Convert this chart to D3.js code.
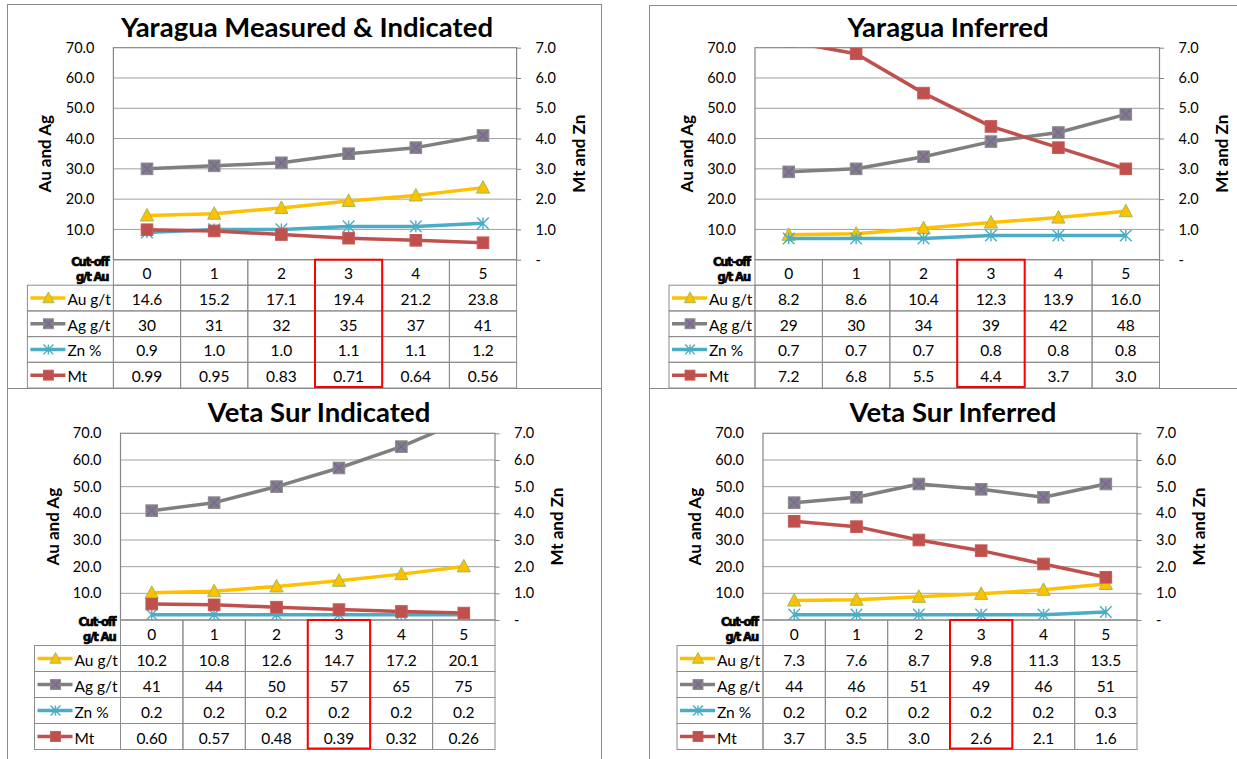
<!DOCTYPE html>
<html>
<head>
<meta charset="utf-8">
<script src="https://cdn.jsdelivr.net/npm/d3@7"></script>
<style>
  body { margin: 0; background: #fff; }
  svg { display: block; font-family: Lato, "Open Sans", sans-serif; }
</style>
</head>
<body>
<svg width="1237" height="759"></svg>
<script>
var cutoffs = [0, 1, 2, 3, 4, 5];
var titles = ["Yaragua Measured & Indicated", "Yaragua Inferred", "Veta Sur Indicated", "Veta Sur Inferred"];
var auGrade = [
  [14.6, 15.2, 17.1, 19.4, 21.2, 23.8],
  [8.2, 8.6, 10.4, 12.3, 13.9, 16.0],
  [10.2, 10.8, 12.6, 14.7, 17.2, 20.1],
  [7.3, 7.6, 8.7, 9.8, 11.3, 13.5]
];
var agGrade = [
  [30, 31, 32, 35, 37, 41],
  [29, 30, 34, 39, 42, 48],
  [41, 44, 50, 57, 65, 75],
  [44, 46, 51, 49, 46, 51]
];
var znPct = [
  [0.9, 1.0, 1.0, 1.1, 1.1, 1.2],
  [0.7, 0.7, 0.7, 0.8, 0.8, 0.8],
  [0.2, 0.2, 0.2, 0.2, 0.2, 0.2],
  [0.2, 0.2, 0.2, 0.2, 0.2, 0.3]
];
var mtTonnes = [
  [0.99, 0.95, 0.83, 0.71, 0.64, 0.56],
  [7.2, 6.8, 5.5, 4.4, 3.7, 3.0],
  [0.60, 0.57, 0.48, 0.39, 0.32, 0.26],
  [3.7, 3.5, 3.0, 2.6, 2.1, 1.6]
];
var mtDecimals = [2, 1, 2, 1];
var seriesNames = ["Au g/t", "Ag g/t", "Zn %", "Mt"];
var leftTicks = [10, 20, 30, 40, 50, 60, 70];
var rightTicks = [0, 1, 2, 3, 4, 5, 6, 7];
var highlightCutoff = 3;

// panel geometry
var layout = [
  {fx: 7, fy: 4, fw: 594, fh: 384, pl: 113.4, pr: 516.6, pt: 47.7, pb: 259.7, rowH: 25.7, titleX: 307, titleY: 37},
  {fx: 649, fy: 5, fw: 600, fh: 383, pl: 755, pr: 1159.5, pt: 47.7, pb: 259.7, rowH: 25.7, titleX: 948, titleY: 37},
  {fx: 7, fy: 388, fw: 594, fh: 380, pl: 120.5, pr: 495, pt: 433.3, pb: 620, rowH: 26, titleX: 319, titleY: 422},
  {fx: 649, fy: 388, fw: 600, fh: 380, pl: 763, pr: 1137, pt: 433.3, pb: 620, rowH: 26, titleX: 953, titleY: 422}
];
var headerH = 25.5;

var colors = {au: "#FFC000", ag: "#7F7F7F", zn: "#4BACC6", mt: "#C0504D"};
var gridColor = "#a0a0a0", borderColor = "#868686", cellColor = "#8c8c8c";

var svg = d3.select("svg");

function drawMarker(g, kind, x, y, s) {
  var m = g.append("g").attr("transform", "translate(" + x + "," + y + ")");
  if (kind === 0) {
    m.append("path")
      .attr("d", "M0," + (-7 * s) + "L" + (6.6 * s) + "," + (5.5 * s) + "L" + (-6.6 * s) + "," + (5.5 * s) + "Z")
      .attr("fill", colors.au).attr("stroke", "#9BBB59").attr("stroke-width", 1);
  } else if (kind === 1) {
    var h = 5.8 * s;
    m.append("rect").attr("x", -h).attr("y", -h).attr("width", 2 * h).attr("height", 2 * h)
      .attr("fill", "#808080").attr("stroke", "#8a8a8a");
    m.append("path").attr("d", "M" + (-h + 1) + "," + (-h + 1) + "L" + (h - 1) + "," + (h - 1) + "M" + (h - 1) + "," + (-h + 1) + "L" + (-h + 1) + "," + (h - 1))
      .attr("stroke", "#7E5FA8").attr("stroke-width", 1.3);
  } else if (kind === 2) {
    var r = 5.8 * s;
    m.append("path").attr("d", "M0," + (-r) + "V" + r + "M" + (-r) + "," + (-r) + "L" + r + "," + r + "M" + r + "," + (-r) + "L" + (-r) + "," + r)
      .attr("stroke", colors.zn).attr("stroke-width", 1.4).attr("fill", "none");
  } else {
    var q = 5.8 * s;
    m.append("rect").attr("x", -q).attr("y", -q).attr("width", 2 * q).attr("height", 2 * q)
      .attr("fill", colors.mt).attr("stroke", "#c65a57");
  }
}

layout.forEach(function(L, k) {
  var g = svg.append("g");

  // chart frame
  g.append("rect").attr("x", L.fx + 0.5).attr("y", L.fy + 0.5).attr("width", L.fw).attr("height", L.fh)
    .attr("fill", "none").attr("stroke", "#8a8a8a");

  var x = d3.scaleBand().domain(cutoffs).range([L.pl, L.pr]);
  var cx = function(d) { return x(d) + x.bandwidth() / 2; };
  var yL = d3.scaleLinear().domain([0, 70]).range([L.pb, L.pt]);
  var yR = d3.scaleLinear().domain([0, 7]).range([L.pb, L.pt]);

  // gridlines
  g.selectAll(".grid").data(leftTicks.slice(0, -1)).enter().append("line")
    .attr("x1", L.pl).attr("x2", L.pr)
    .attr("y1", function(d) { return yL(d); }).attr("y2", function(d) { return yL(d); })
    .attr("stroke", gridColor).attr("stroke-width", 1);

  g.append("rect").attr("x", L.pl).attr("y", L.pt).attr("width", L.pr - L.pl).attr("height", L.pb - L.pt)
    .attr("fill", "none").attr("stroke", borderColor).attr("stroke-width", 1.2);

  // axes
  var left = g.append("g").attr("transform", "translate(" + L.pl + ",0)")
    .call(d3.axisLeft(yL).tickValues(leftTicks).tickSize(0).tickPadding(19).tickFormat(d3.format(".1f")));
  var right = g.append("g").attr("transform", "translate(" + L.pr + ",0)")
    .call(d3.axisRight(yR).tickValues(rightTicks).tickSizeInner(4.5).tickSizeOuter(0).tickPadding(14.5)
      .tickFormat(function(d) { return d === 0 ? "-" : d.toFixed(1); }));
  [left, right].forEach(function(a) {
    a.select(".domain").remove();
    a.selectAll("text").attr("font-family", "Lato").attr("font-size", 14.5).attr("fill", "#000");
    a.selectAll("line").attr("stroke", borderColor);
  });

  // titles
  g.append("text").attr("x", L.titleX).attr("y", L.titleY).attr("text-anchor", "middle")
    .attr("font-size", 27.5).attr("font-weight", "bold").text(titles[k]);
  var midY = (L.pt + L.pb) / 2;
  g.append("text").attr("transform", "translate(" + (L.pl - 62) + "," + midY + ") rotate(-90)")
    .attr("text-anchor", "middle").attr("font-size", 17).attr("font-weight", "bold").text("Au and Ag");
  g.append("text").attr("transform", "translate(" + (L.pr + 68) + "," + midY + ") rotate(-90)")
    .attr("text-anchor", "middle").attr("font-size", 17).attr("font-weight", "bold").text("Mt and Zn");

  // series
  var clipId = "clip" + k;
  g.append("clipPath").attr("id", clipId).append("rect")
    .attr("x", L.pl).attr("y", L.pt).attr("width", L.pr - L.pl).attr("height", L.pb - L.pt);
  var plot = g.append("g").attr("clip-path", "url(#" + clipId + ")");
  var series = [
    {vals: auGrade[k], y: yL, color: colors.au},
    {vals: agGrade[k], y: yL, color: colors.ag},
    {vals: znPct[k], y: yR, color: colors.zn},
    {vals: mtTonnes[k], y: yR, color: colors.mt}
  ];
  series.forEach(function(s, si) {
    var line = d3.line().x(function(d, i) { return cx(cutoffs[i]); }).y(function(d) { return s.y(d); });
    plot.append("path").datum(s.vals).attr("d", line)
      .attr("fill", "none").attr("stroke", s.color).attr("stroke-width", 3.5).attr("stroke-linejoin", "round");
    s.vals.forEach(function(v, i) { drawMarker(plot, si, cx(cutoffs[i]), s.y(v), 1); });
  });

  // data table
  var tb = g.append("g");
  var legendL = L.pl - 86;
  var rowTop = function(r) { return L.pb + headerH + r * L.rowH; };
  var tableBottom = rowTop(4);
  cutoffs.forEach(function(c) {
    tb.append("rect").attr("x", x(c)).attr("y", L.pb).attr("width", x.bandwidth()).attr("height", headerH)
      .attr("fill", "none").attr("stroke", cellColor);
    tb.append("text").attr("x", cx(c)).attr("y", L.pb + headerH / 2 + 1).attr("text-anchor", "middle")
      .attr("dominant-baseline", "central").attr("font-size", 15.5).text(c);
  });
  tb.append("text").attr("x", L.pl - 5).attr("y", L.pb + 6).attr("text-anchor", "end")
    .attr("font-family", "DejaVu Sans").attr("font-weight", "bold").attr("font-size", 11.5)
    .attr("letter-spacing", -1.1).attr("stroke", "#000").attr("stroke-width", 0.7).text("Cut-off");
  tb.append("text").attr("x", L.pl - 5).attr("y", L.pb + 21).attr("text-anchor", "end")
    .attr("font-family", "DejaVu Sans").attr("font-weight", "bold").attr("font-size", 11.5)
    .attr("letter-spacing", -1.1).attr("stroke", "#000").attr("stroke-width", 0.7).text("g/t Au");

  var fmts = [d3.format(".1f"), d3.format(".0f"), d3.format(".1f"), d3.format("." + mtDecimals[k] + "f")];
  series.forEach(function(s, r) {
    var y0 = rowTop(r), yc = y0 + L.rowH / 2;
    tb.append("rect").attr("x", legendL).attr("y", y0).attr("width", L.pl - legendL).attr("height", L.rowH)
      .attr("fill", "none").attr("stroke", cellColor);
    tb.append("line").attr("x1", legendL + 3).attr("x2", legendL + 38).attr("y1", yc).attr("y2", yc)
      .attr("stroke", s.color).attr("stroke-width", 3.5);
    drawMarker(tb, r, legendL + 21, yc, 0.85);
    tb.append("text").attr("x", legendL + 40).attr("y", yc + 1).attr("dominant-baseline", "central")
      .attr("font-size", 15.5).text(seriesNames[r]);
    cutoffs.forEach(function(c, i) {
      tb.append("rect").attr("x", x(c)).attr("y", y0).attr("width", x.bandwidth()).attr("height", L.rowH)
        .attr("fill", "none").attr("stroke", cellColor);
      tb.append("text").attr("x", cx(c)).attr("y", yc + 1).attr("text-anchor", "middle")
        .attr("dominant-baseline", "central").attr("font-size", 15.5).text(fmts[r](s.vals[i]));
    });
  });

  // highlighted cut-off column
  tb.append("rect").attr("x", x(highlightCutoff)).attr("y", L.pb)
    .attr("width", x.bandwidth()).attr("height", tableBottom - L.pb - 1)
    .attr("fill", "none").attr("stroke", "#FF0000").attr("stroke-width", 2);
});
</script>
</body>
</html>
